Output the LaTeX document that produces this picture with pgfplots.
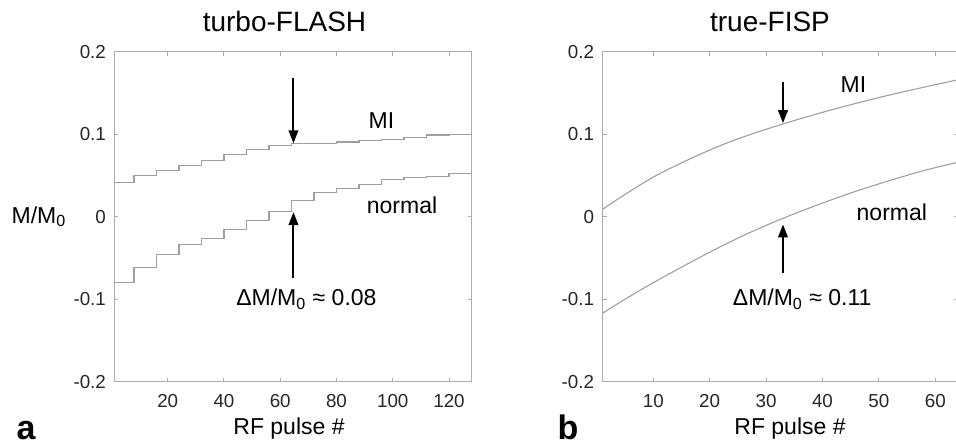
\documentclass[border=0pt]{standalone}
\usepackage{fontspec}
\setmainfont{Liberation Sans}
\usepackage{pgfplots}
\pgfplotsset{compat=1.18}
\usetikzlibrary{arrows.meta}

\pgfplotsset{
  myax/.style={
    scale only axis, height=165pt,
    anchor=south west,
    ymin=-0.2, ymax=0.2,
    ytick={-0.2,-0.1,0,0.1,0.2},
    yticklabels={-0.2,-0.1,0,0.1,0.2},
    axis line style={draw=gray!65, line width=0.6pt},
    major tick style={draw=gray!65, line width=0.5pt},
    tick align=inside, major tick length=2pt,
    tick label style={font=\fontsize{9.4}{10}\selectfont, inner sep=0pt, text=black!85},
    xticklabel shift=6pt, yticklabel shift=4pt,
    /pgf/number format/assume math mode=true,
  },
  curve/.style={draw=gray!75, line width=0.55pt, mark=none},
}
\newcommand{\lab}{\fontsize{11.5}{13}\selectfont}

\begin{document}
\begin{tikzpicture}
\useasboundingbox (0,0) rectangle (478pt,222.5pt);

% ---------- panel a ----------
\begin{axis}[myax, at={(57.15pt,31.65pt)}, width=178.6pt,
  xmin=1, xmax=128, xtick={20,40,60,80,100,120}]
\addplot[curve, const plot] coordinates {
 (1,0.041) (8,0.050) (16,0.056) (24,0.062) (32,0.068) (40,0.075) (48,0.082)
 (56,0.086) (64,0.0885) (72,0.089) (80,0.0905) (88,0.092) (96,0.094)
 (104,0.0957) (112,0.099) (120,0.0998) (128,0.0998)};
\addplot[curve, const plot] coordinates {
 (1,-0.080) (8,-0.062) (16,-0.046) (24,-0.034) (32,-0.026) (40,-0.0155)
 (48,-0.005) (56,0.006) (64,0.020) (72,0.029) (80,0.034) (88,0.039)
 (96,0.045) (104,0.048) (112,0.049) (120,0.052) (128,0.052)};
\draw[-{Triangle[length=6.5pt,width=4.8pt]}, line width=1pt] (axis cs:64.7,0.168) -- (axis cs:64.7,0.089);
\draw[-{Triangle[length=6.5pt,width=4.8pt]}, line width=1pt] (axis cs:64.7,-0.074) -- (axis cs:64.7,0.0055);
\node[anchor=base, inner sep=0pt, font=\lab] at (axis cs:96,0.1074) {MI};
\node[anchor=base, inner sep=0pt, font=\lab] at (axis cs:103.3,0.0039) {normal};
\node[anchor=base, inner sep=0pt, font=\lab] at (axis cs:69.3,-0.108) {ΔM/M\textsubscript{0} ≈ 0.08};
\end{axis}

% ---------- panel b ----------
\begin{axis}[myax, at={(301.25pt,31.65pt)}, width=177.65pt,
  xmin=1, xmax=64, xtick={10,20,30,40,50,60}]
\addplot[curve, smooth] coordinates {
 (1,0.009) (5,0.027) (10,0.048) (16,0.0685) (22,0.0865) (28,0.1015) (34,0.1145)
 (40,0.1265) (46,0.1375) (52,0.1477) (58,0.157) (64,0.166)};
\addplot[curve, smooth] coordinates {
 (1,-0.117) (5,-0.100) (10,-0.080) (16,-0.0575) (22,-0.036) (28,-0.0165)
 (34,0.0008) (40,0.0165) (46,0.031) (52,0.044) (58,0.056) (64,0.066)};
\draw[-{Triangle[length=6.5pt,width=4.8pt]}, line width=1pt] (axis cs:33,0.1637) -- (axis cs:33,0.1134);
\draw[-{Triangle[length=6.5pt,width=4.8pt]}, line width=1pt] (axis cs:33,-0.0678) -- (axis cs:33,-0.0094);
\node[anchor=base, inner sep=0pt, font=\lab] at (axis cs:45.5,0.1505) {MI};
\node[anchor=base, inner sep=0pt, font=\lab] at (axis cs:52.3,-0.0042) {normal};
\node[anchor=base, inner sep=0pt, font=\lab] at (axis cs:36.4,-0.108) {ΔM/M\textsubscript{0} ≈ 0.11};
\end{axis}

% ---------- titles and labels ----------
\node[anchor=base, inner sep=0pt, font=\fontsize{14}{16}\selectfont] at (142.25pt,206.65pt) {turbo-FLASH};
\node[anchor=base, inner sep=0pt, font=\fontsize{14}{16}\selectfont] at (385pt,206.65pt) {true-FISP};
\node[anchor=base, inner sep=0pt, font=\lab] at (144.5pt,5.5pt) {RF pulse \#};
\node[anchor=base, inner sep=0pt, font=\lab] at (395pt,5.5pt) {RF pulse \#};
\node[anchor=base, inner sep=0pt, font=\lab] at (19.5pt,110.85pt) {M/M\textsubscript{0}};
\node[anchor=base, inner sep=0pt, font=\fontsize{17}{19}\selectfont\bfseries] at (13pt,2.6pt) {a};
\node[anchor=base, inner sep=0pt, font=\fontsize{17}{19}\selectfont\bfseries] at (284pt,2.6pt) {b};
\end{tikzpicture}
\end{document}
